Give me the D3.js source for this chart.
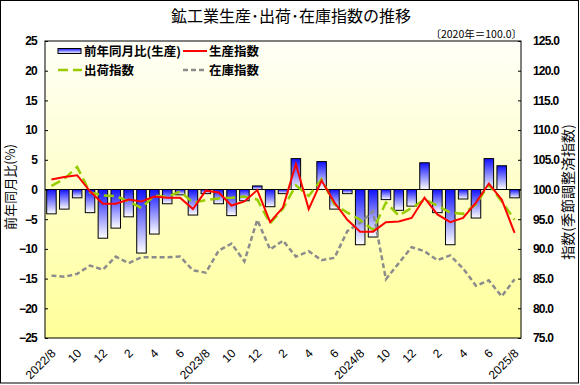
<!DOCTYPE html>
<html><head><meta charset="utf-8">
<script src="https://cdn.jsdelivr.net/npm/d3@7"></script>
<style>
html,body{margin:0;padding:0;background:#fff;}
svg{display:block;}
.tick text{font-family:"Liberation Sans",Arial,sans-serif;font-weight:bold;}
</style></head>
<body>
<svg id="c" width="580" height="385"></svg>
<script>
// ---- data ----
const months = ["2022/8","9","10","11","12","2023/1","2","3","4","5","6","7","2023/8","9","10","11","12","2024/1","2","3","4","5","6","7","2024/8","9","10","11","12","2025/1","2","3","4","5","6","7","2025/8"];
const tickLabels = ["2022/8","10","12","2","4","6","2023/8","10","12","2","4","6","2024/8","10","12","2","4","6","2025/8"];
const yoyProduction = [-4.1,-3.3,-1.4,-3.9,-8.2,-6.5,-4.6,-10.7,-7.5,-2.4,-0.9,-4.3,-0.7,-2.4,-4.4,-1.9,0.6,-2.9,-0.7,5.2,0.0,4.7,-3.3,-0.7,-9.3,-8.0,-1.7,-3.5,-2.8,4.5,-3.9,-9.3,-1.6,-4.8,5.2,4.0,-1.4];
const productionIndex = [101.7,102.1,102.4,99.7,97.6,97.6,98.3,98.0,98.8,98.6,98.6,96.7,99.8,99.5,97.3,98.0,99.9,94.5,97.0,104.3,96.7,101.5,97.8,94.9,92.9,92.9,94.5,94.6,95.2,98.6,95.8,94.5,95.2,97.8,101.0,98.3,92.7];
const shipmentIndex = [100.6,101.8,103.8,99.5,99.0,98.9,98.0,96.9,99.0,98.7,99.7,97.8,98.2,98.5,98.6,98.8,98.3,94.3,96.8,100.7,98.9,101.7,97.5,96.1,94.9,93.2,97.8,95.6,96.9,98.3,97.3,96.1,95.9,97.5,100.8,98.0,94.9];
const inventoryIndex = [85.5,85.3,85.8,87.2,86.5,88.7,87.6,88.6,88.6,88.6,88.7,86.4,86.0,89.7,90.9,87.9,94.9,89.9,91.4,88.7,89.6,88.1,88.5,93.0,94.4,96.3,84.9,87.6,90.3,89.6,88.1,88.9,86.7,83.8,84.7,82.0,84.9];
const leftTicks = [-25,-20,-15,-10,-5,0,5,10,15,20,25];
const rightTicks = [75,80,85,90,95,100,105,110,115,120,125];
const legendItems = ["前年同月比(生産)","生産指数","出荷指数","在庫指数"];

const svg = d3.select("#c");
const defs = svg.append("defs");
const bg = defs.append("linearGradient").attr("id","bg").attr("x1",0).attr("y1",0).attr("x2",0).attr("y2",1);
bg.append("stop").attr("offset","0%").attr("stop-color","#fffff8");
bg.append("stop").attr("offset","100%").attr("stop-color","#ffff99");
const bar = defs.append("linearGradient").attr("id","bar").attr("x1",0).attr("y1",0).attr("x2",0).attr("y2",1);
bar.append("stop").attr("offset","0%").attr("stop-color","#1010ff");
bar.append("stop").attr("offset","100%").attr("stop-color","#ffffff");

const L=45,R=521,T=41,B=338;
const x = d3.scaleBand().domain(d3.range(months.length)).range([L,R]).paddingInner(0.26).paddingOuter(0.13);
const cx = i => x(i)+x.bandwidth()/2;
const yL = d3.scaleLinear().domain([-25,25]).range([B,T]);
const yR = d3.scaleLinear().domain([75,125]).range([B,T]);

// outer frame
svg.append("rect").attr("x",0.5).attr("y",0.5).attr("width",578).attr("height",382.5).attr("fill","#fff").attr("stroke","#000");
// plot bg
svg.append("rect").attr("x",L).attr("y",T).attr("width",R-L).attr("height",B-T).attr("fill","url(#bg)");

// title
svg.append("text").attr("x",291).attr("y",22).attr("text-anchor","middle")
  .attr("font-family","'Noto Sans CJK JP',sans-serif").attr("font-size",16).text("鉱工業生産･出荷･在庫指数の推移");
svg.append("text").attr("x",522).attr("y",38).attr("text-anchor","end")
  .attr("font-family","'Noto Sans CJK JP',sans-serif").attr("font-size",10.5).text("〔2020年＝100.0〕");

// bars
svg.append("g").selectAll("rect").data(yoyProduction).join("rect")
  .attr("x",(d,i)=>x(i)).attr("width",x.bandwidth())
  .attr("y",d=>Math.min(yL(d),yL(0))).attr("height",d=>Math.abs(yL(d)-yL(0)))
  .attr("fill","url(#bar)").attr("stroke","#000").attr("stroke-width",1);

// zero line
svg.append("line").attr("x1",L).attr("x2",R).attr("y1",yL(0)).attr("y2",yL(0)).attr("stroke","#000");

const line = d3.line().x((d,i)=>cx(i)).y(d=>yR(d));
svg.append("path").datum(inventoryIndex).attr("d",line).attr("fill","none").attr("stroke","#8c8c8c").attr("stroke-width",2.5).attr("stroke-dasharray","5,3");
svg.append("path").datum(shipmentIndex).attr("d",line).attr("fill","none").attr("stroke","#99cc00").attr("stroke-width",2.5).attr("stroke-dasharray","10,5");
svg.append("path").datum(productionIndex).attr("d",line).attr("fill","none").attr("stroke","#ff0000").attr("stroke-width",2);

// plot border
svg.append("rect").attr("x",L).attr("y",T).attr("width",R-L).attr("height",B-T).attr("fill","none").attr("stroke","#000");

// axes
const ax1 = svg.append("g").attr("transform",`translate(${L},0)`)
  .call(d3.axisLeft(yL).tickValues(leftTicks).tickSize(-3).tickPadding(8).tickFormat(d3.format("d")));
const ax2 = svg.append("g").attr("transform",`translate(${R},0)`)
  .call(d3.axisRight(yR).tickValues(rightTicks).tickSize(-3).tickPadding(12).tickFormat(d3.format(".1f")));
[ax1,ax2].forEach(a=>{a.select(".domain").remove();a.selectAll(".tick line").attr("stroke","#000");
  a.selectAll("text").attr("font-size",12).attr("fill","#000").attr("letter-spacing","-0.8px");});

// x labels
const xl = svg.append("g");
tickLabels.forEach((t,k)=>{
  const i=k*2;
  xl.append("text").attr("transform",`translate(${cx(i)+5},354) rotate(-45)`)
    .attr("text-anchor","end").attr("font-family","'Liberation Sans',Arial,sans-serif")
    .attr("font-size",12).text(t);
});

// axis titles
svg.append("text").attr("transform","translate(15,187) rotate(-90)").attr("text-anchor","middle")
  .attr("font-family","'Noto Sans CJK JP',sans-serif").attr("font-size",13).text("前年同月比(%)");
svg.append("text").attr("transform","translate(573,192) rotate(-90)").attr("text-anchor","middle")
  .attr("font-family","'Noto Sans CJK JP',sans-serif").attr("font-size",14).text("指数(季節調整済指数)");

// legend
const lg = svg.append("g").attr("font-family","'Noto Sans CJK JP',sans-serif").attr("font-size",12.5).attr("font-weight","bold");
const pos = [[58,51],[183,51],[58,70],[183,70]];
lg.append("rect").attr("x",pos[0][0]).attr("y",pos[0][1]-2.5).attr("width",23).attr("height",5).attr("fill","url(#bar)").attr("stroke","#000");
lg.append("line").attr("x1",pos[1][0]).attr("x2",pos[1][0]+24).attr("y1",pos[1][1]).attr("y2",pos[1][1]).attr("stroke","#ff0000").attr("stroke-width",2);
lg.append("line").attr("x1",pos[2][0]).attr("x2",pos[2][0]+24).attr("y1",pos[2][1]).attr("y2",pos[2][1]).attr("stroke","#99cc00").attr("stroke-width",2.5).attr("stroke-dasharray","10,5");
lg.append("line").attr("x1",pos[3][0]).attr("x2",pos[3][0]+24).attr("y1",pos[3][1]).attr("y2",pos[3][1]).attr("stroke","#8c8c8c").attr("stroke-width",2.5).attr("stroke-dasharray","5,3");
legendItems.forEach((t,k)=>{
  lg.append("text").attr("x",pos[k][0]+26).attr("y",pos[k][1]).attr("dy","0.36em").text(t);
});
</script>
</body></html>
